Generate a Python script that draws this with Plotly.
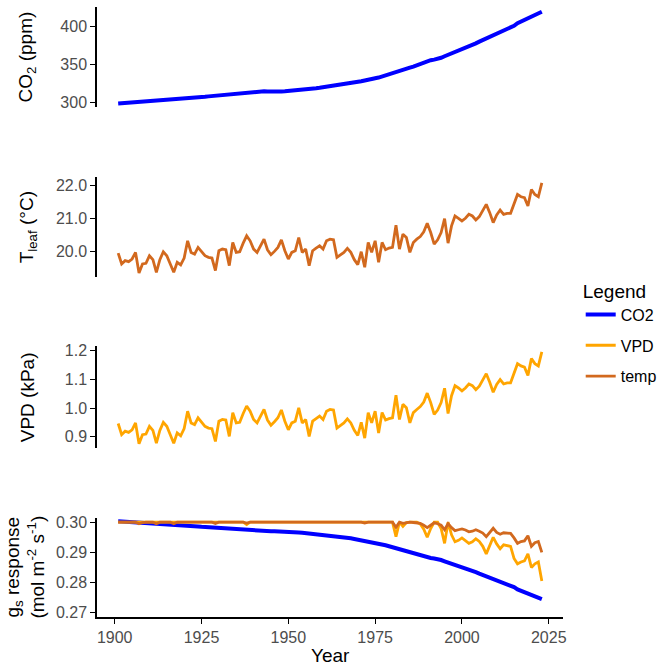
import plotly.graph_objects as go

years = list(range(1901, 2024))

co2_ppm = [299.0, 299.3, 299.6, 300.0, 300.3, 300.7, 301.0, 301.3, 301.6, 301.9,
           302.2, 302.5, 302.8, 303.2, 303.5, 303.9, 304.2, 304.5, 304.9, 305.3,
           305.7, 306.1, 306.5, 306.9, 307.4, 307.8, 308.3, 308.8, 309.3, 309.8,
           310.3, 310.8, 311.2, 311.6, 312.0, 312.4, 312.8, 313.2, 313.6, 314.0,
           314.4, 314.8, 315.0, 314.6, 314.4, 314.4, 314.5, 314.7, 315.0, 315.3,
           315.6, 316.0, 316.4, 316.8, 317.3, 317.8, 318.3, 318.9, 319.5, 320.2,
           320.8, 321.4, 322.0, 322.5, 323.0, 323.8, 324.5, 325.4, 326.4, 327.3,
           328.2, 329.2, 330.6, 331.4, 332.2, 333.0, 334.6, 336.1, 337.6, 339.2,
           340.5, 341.5, 343.0, 344.6, 346.0, 347.4, 349.2, 351.4, 353.2, 354.6,
           355.8, 356.6, 357.4, 359.0, 361.0, 362.8, 364.2, 366.9, 368.7, 370.0,
           371.6, 373.6, 376.0, 377.9, 380.2, 382.2, 384.3, 386.2, 387.8, 390.1,
           391.9, 394.1, 396.8, 398.9, 401.1, 404.5, 406.8, 409.0, 411.7, 414.0,
           416.0, 418.3, 419.5]

t_leaf = [19.95, 19.62, 19.72, 19.69, 19.77, 19.97, 19.35, 19.62, 19.64, 19.87,
          19.75, 19.37, 19.75, 19.99, 19.87, 19.60, 19.37, 19.67, 19.59, 19.80,
          20.32, 19.97, 19.92, 20.12, 19.99, 19.87, 19.82, 19.80, 19.42, 20.02,
          20.07, 20.05, 19.57, 20.27, 19.97, 19.99, 20.25, 20.47, 20.32, 20.07,
          19.97, 20.15, 20.37, 20.05, 19.90, 20.00, 20.12, 20.35, 20.02, 19.77,
          19.97, 20.02, 20.42, 19.97, 20.07, 19.57, 20.02, 20.10, 20.17, 20.07,
          20.32, 20.37, 20.35, 19.82, 19.90, 19.97, 20.09, 19.97, 19.75, 19.60,
          19.99, 19.52, 20.27, 19.97, 20.32, 19.67, 20.27, 20.05, 20.10, 20.12,
          20.79, 20.07, 20.52, 20.42, 19.97, 20.27, 20.37, 20.45, 20.59, 20.85,
          20.57, 20.22, 20.35, 20.57, 20.99, 20.25, 20.77, 21.07, 21.00, 20.92,
          21.00, 21.12, 21.07, 20.95, 21.05, 21.22, 21.42, 21.17, 20.87, 21.10,
          21.25, 21.12, 21.15, 21.15, 21.47, 21.72, 21.65, 21.62, 21.37, 21.87,
          21.72, 21.65, 22.07]

vpd_kpa = [0.946, 0.907, 0.919, 0.915, 0.924, 0.948, 0.875, 0.907, 0.909, 0.936,
           0.922, 0.877, 0.922, 0.950, 0.936, 0.904, 0.877, 0.913, 0.903, 0.928,
           0.989, 0.948, 0.942, 0.966, 0.950, 0.936, 0.930, 0.928, 0.883, 0.954,
           0.960, 0.958, 0.901, 0.984, 0.948, 0.950, 0.981, 1.007, 0.989, 0.960,
           0.948, 0.969, 0.995, 0.958, 0.940, 0.952, 0.966, 0.993, 0.954, 0.924,
           0.948, 0.954, 1.001, 0.948, 0.960, 0.901, 0.954, 0.963, 0.972, 0.960,
           0.989, 0.995, 0.993, 0.930, 0.940, 0.948, 0.962, 0.948, 0.922, 0.904,
           0.950, 0.895, 0.984, 0.948, 0.989, 0.913, 0.984, 0.958, 0.963, 0.966,
           1.045, 0.960, 1.013, 1.001, 0.948, 0.984, 0.995, 1.005, 1.021, 1.052,
           1.019, 0.978, 0.993, 1.019, 1.069, 0.981, 1.043, 1.078, 1.070, 1.060,
           1.070, 1.084, 1.078, 1.064, 1.076, 1.096, 1.120, 1.090, 1.055, 1.082,
           1.099, 1.084, 1.088, 1.088, 1.125, 1.155, 1.147, 1.143, 1.114, 1.173,
           1.155, 1.147, 1.196]

gs_co2 = [0.30030, 0.30024, 0.30017, 0.30009, 0.30002, 0.29994, 0.29987, 0.29981, 0.29974, 0.29968,
          0.29962, 0.29955, 0.29949, 0.29940, 0.29934, 0.29925, 0.29919, 0.29912, 0.29904, 0.29895,
          0.29887, 0.29878, 0.29869, 0.29861, 0.29850, 0.29842, 0.29831, 0.29820, 0.29810, 0.29799,
          0.29788, 0.29777, 0.29769, 0.29760, 0.29752, 0.29743, 0.29735, 0.29726, 0.29718, 0.29709,
          0.29700, 0.29692, 0.29688, 0.29696, 0.29700, 0.29700, 0.29698, 0.29694, 0.29688, 0.29681,
          0.29675, 0.29666, 0.29658, 0.29649, 0.29638, 0.29628, 0.29617, 0.29604, 0.29591, 0.29576,
          0.29563, 0.29551, 0.29538, 0.29527, 0.29516, 0.29499, 0.29484, 0.29465, 0.29444, 0.29424,
          0.29405, 0.29384, 0.29354, 0.29337, 0.29320, 0.29302, 0.29268, 0.29236, 0.29204, 0.29170,
          0.29142, 0.29120, 0.29088, 0.29054, 0.29024, 0.28994, 0.28956, 0.28909, 0.28870, 0.28840,
          0.28814, 0.28797, 0.28780, 0.28746, 0.28703, 0.28665, 0.28635, 0.28577, 0.28538, 0.28511,
          0.28476, 0.28434, 0.28382, 0.28342, 0.28292, 0.28250, 0.28205, 0.28164, 0.28130, 0.28080,
          0.28042, 0.27995, 0.27937, 0.27892, 0.27845, 0.27772, 0.27723, 0.27676, 0.27618, 0.27569,
          0.27526, 0.27477, 0.27451]

gs_vpd = [0.3000, 0.3000, 0.3000, 0.3000, 0.3000, 0.3000, 0.3000, 0.3000, 0.3000, 0.3000,
          0.3000, 0.3000, 0.3000, 0.3000, 0.3000, 0.3000, 0.3000, 0.3000, 0.3000, 0.3000,
          0.3000, 0.3000, 0.3000, 0.3000, 0.3000, 0.3000, 0.3000, 0.3000, 0.3000, 0.3000,
          0.3000, 0.3000, 0.3000, 0.3000, 0.3000, 0.3000, 0.3000, 0.2992, 0.3000, 0.3000,
          0.3000, 0.3000, 0.3000, 0.3000, 0.3000, 0.3000, 0.3000, 0.3000, 0.3000, 0.3000,
          0.3000, 0.3000, 0.2999, 0.3000, 0.3000, 0.3000, 0.3000, 0.3000, 0.3000, 0.3000,
          0.3000, 0.3000, 0.3000, 0.3000, 0.3000, 0.3000, 0.3000, 0.3000, 0.3000, 0.3000,
          0.3000, 0.3000, 0.3000, 0.3000, 0.3000, 0.3000, 0.3000, 0.3000, 0.3000, 0.3000,
          0.2952, 0.3000, 0.2986, 0.2999, 0.3000, 0.3000, 0.3000, 0.2994, 0.2977, 0.2950,
          0.2979, 0.3000, 0.3000, 0.2979, 0.2930, 0.3000, 0.2958, 0.2935, 0.2940, 0.2948,
          0.2940, 0.2930, 0.2935, 0.2945, 0.2936, 0.2920, 0.2895, 0.2920, 0.2950, 0.2928,
          0.2912, 0.2925, 0.2922, 0.2920, 0.2880, 0.2862, 0.2868, 0.2872, 0.2895, 0.2850,
          0.2862, 0.2868, 0.2805]

gs_temp = [0.3000, 0.2999, 0.3000, 0.3000, 0.3000, 0.3000, 0.2995, 0.2999, 0.3000, 0.3000,
           0.3000, 0.2995, 0.3000, 0.3000, 0.3000, 0.3000, 0.2995, 0.3000, 0.3000, 0.3000,
           0.3000, 0.3000, 0.3000, 0.3000, 0.3000, 0.3000, 0.3000, 0.3000, 0.2996, 0.3000,
           0.3000, 0.3000, 0.2998, 0.3000, 0.3000, 0.3000, 0.3000, 0.2997, 0.3000, 0.3000,
           0.3000, 0.3000, 0.2999, 0.3000, 0.3000, 0.3000, 0.3000, 0.2998, 0.3000, 0.3000,
           0.3000, 0.3000, 0.2998, 0.3000, 0.3000, 0.2998, 0.3000, 0.3000, 0.3000, 0.3000,
           0.3000, 0.3000, 0.3000, 0.3000, 0.3000, 0.3000, 0.3000, 0.3000, 0.3000, 0.2998,
           0.3000, 0.2997, 0.3000, 0.3000, 0.3000, 0.2999, 0.3000, 0.3000, 0.3000, 0.3000,
           0.2983, 0.3000, 0.2996, 0.2998, 0.3000, 0.2999, 0.2998, 0.2996, 0.2990, 0.2982,
           0.2990, 0.2998, 0.2995, 0.2990, 0.2975, 0.2995, 0.2982, 0.2972, 0.2975, 0.2978,
           0.2974, 0.2968, 0.2970, 0.2975, 0.2970, 0.2964, 0.2952, 0.2965, 0.2980, 0.2966,
           0.2960, 0.2965, 0.2963, 0.2963, 0.2948, 0.2930, 0.2936, 0.2938, 0.2955, 0.2920,
           0.2932, 0.2936, 0.2900]

C_CO2 = "#0000FF"
C_VPD = "#FFA500"
C_TEMP = "#D2691E"
FONT = "Liberation Sans, Arial, sans-serif"
TICK_GREY = "#4D4D4D"

# panel domains (paper fractions, bottom to top)
dom = {
    1: [0.8355, 1.0],
    2: [0.5570, 0.7215],
    3: [0.2769, 0.4446],
    4: [0.0, 0.1629],
}

fig = go.Figure()

def add(x, y, color, width, name, axis_idx, show):
    xa = "x" if axis_idx == 1 else f"x{axis_idx}"
    ya = "y" if axis_idx == 1 else f"y{axis_idx}"
    fig.add_trace(go.Scatter(
        x=x, y=y, mode="lines", name=name, legendgroup=name, showlegend=show,
        line=dict(color=color, width=width), xaxis=xa, yaxis=ya,
        hoverinfo="skip"))

add(years, co2_ppm, C_CO2, 4, "CO2", 1, True)
add(years, t_leaf, C_TEMP, 2.8, "temp", 2, False)
add(years, vpd_kpa, C_VPD, 2.8, "VPD", 3, True)
add(years, gs_co2, C_CO2, 4, "CO2", 4, False)
add(years, gs_vpd, C_VPD, 2.8, "VPD", 4, False)
add(years, gs_temp, C_TEMP, 2.8, "temp", 4, True)

xrange = [1894.9, 2029.1]
yaxis_common = dict(showline=True, linecolor="black", linewidth=1.5, ticks="outside",
                    ticklen=5, tickwidth=1.3, tickcolor="black", showgrid=False,
                    zeroline=False, tickfont=dict(family=FONT, size=16, color=TICK_GREY))

layout = dict(
    width=665, height=666,
    margin=dict(l=97, r=100, t=3, b=49),
    paper_bgcolor="white", plot_bgcolor="white",
    font=dict(family=FONT, color="black"),
    showlegend=True,
    legend=dict(
        title=dict(text="Legend", font=dict(family=FONT, size=19, color="black")),
        font=dict(family=FONT, size=16, color="black"),
        x=1.038, xanchor="left", y=0.465, yanchor="middle",
        tracegroupgap=7, traceorder="grouped", itemwidth=30,
        bgcolor="rgba(0,0,0,0)",
    ),
)

yranges = {1: [293.9, 425.7], 2: [19.22, 22.25], 3: [0.860, 1.2174], 4: [0.26855, 0.30152]}
ytick = {
    1: dict(tickvals=[300, 350, 400], ticktext=["300", "350", "400"]),
    2: dict(tickvals=[20, 21, 22], ticktext=["20.0", "21.0", "22.0"]),
    3: dict(tickvals=[0.9, 1.0, 1.1, 1.2], ticktext=["0.9", "1.0", "1.1", "1.2"]),
    4: dict(tickvals=[0.27, 0.28, 0.29, 0.30], ticktext=["0.27", "0.28", "0.29", "0.30"]),
}

for i in range(1, 5):
    xk = "xaxis" if i == 1 else f"xaxis{i}"
    yk = "yaxis" if i == 1 else f"yaxis{i}"
    xa_anchor = "y" if i == 1 else f"y{i}"
    ya_anchor = "x" if i == 1 else f"x{i}"
    if i < 4:
        layout[xk] = dict(domain=[0, 1], range=xrange, visible=False, anchor=xa_anchor)
    else:
        layout[xk] = dict(domain=[0, 1], range=xrange, anchor=xa_anchor,
                          showline=True, linecolor="black", linewidth=1.5,
                          ticks="outside", ticklen=5, tickwidth=1.3, tickcolor="black",
                          showgrid=False, zeroline=False,
                          tickvals=[1900, 1925, 1950, 1975, 2000, 2025],
                          tickfont=dict(family=FONT, size=16, color=TICK_GREY))
    layout[yk] = dict(domain=dom[i], range=yranges[i], anchor=ya_anchor, **ytick[i], **yaxis_common)

fig.update_layout(**layout)

plot_w = 665 - 97 - 100
def px_to_paper_x(px):
    return (px - 97) / plot_w

titles = [
    (1, "CO<sub>2</sub> (ppm)", 27),
    (2, "T<sub>leaf</sub> (°C)", 28),
    (3, "VPD (kPa)", 28),
    (4, "g<sub>s</sub> response<br>(mol m<sup>-2</sup> s<sup>-1</sup>)", 25),
]
for i, txt, xc in titles:
    fig.add_annotation(text=txt, xref="paper", yref="paper",
                       x=px_to_paper_x(xc), y=(dom[i][0] + dom[i][1]) / 2,
                       xanchor="center", yanchor="middle", textangle=-90,
                       showarrow=False, font=dict(family=FONT, size=19, color="black"))

fig.add_annotation(text="Year", xref="paper", yref="paper",
                   x=0.5, y=(617 - 656) / 614, xanchor="center", yanchor="middle",
                   showarrow=False, font=dict(family=FONT, size=19, color="black"))

fig.write_html("out.html")
